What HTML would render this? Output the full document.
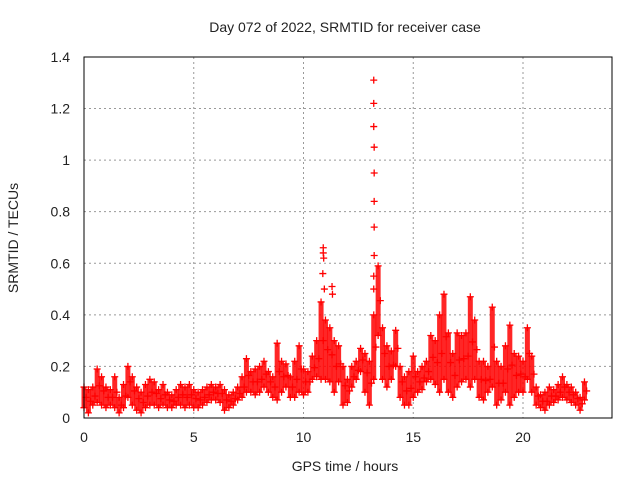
<!DOCTYPE html>
<html><head><meta charset="utf-8"><style>
body{margin:0;background:#fff;}
svg{display:block;font-family:"Liberation Sans",sans-serif;}
</style></head><body>
<svg id="chart" width="640" height="480">
<text x="345" y="32" text-anchor="middle" font-size="14" fill="#222">Day 072 of 2022, SRMTID for receiver case</text>
<text x="345" y="471" text-anchor="middle" font-size="14" fill="#222">GPS time / hours</text>
<text transform="translate(18,238) rotate(-90)" text-anchor="middle" font-size="14" fill="#222">SRMTID / TECUs</text>
<g id="grid"></g><g id="marks"></g>
<rect x="84" y="57" width="528" height="361" fill="none" stroke="#000" stroke-width="1"/>
</svg>
<script>
const binHours=[0.0,0.2,0.4,0.6,0.8,1.0,1.2,1.4,1.6,1.8,2.0,2.2,2.4,2.6,2.8,3.0,3.2,3.4,3.6,3.8,4.0,4.2,4.4,4.6,4.8,5.0,5.2,5.4,5.6,5.8,6.0,6.2,6.4,6.6,6.8,7.0,7.2,7.4,7.6,7.8,8.0,8.2,8.4,8.6,8.8,9.0,9.2,9.4,9.6,9.8,10.0,10.2,10.4,10.6,10.8,11.0,11.2,11.4,11.6,11.8,12.0,12.2,12.4,12.6,12.8,13.0,13.2,13.4,13.6,13.8,14.0,14.2,14.4,14.6,14.8,15.0,15.2,15.4,15.6,15.8,16.0,16.2,16.4,16.6,16.8,17.0,17.2,17.4,17.6,17.8,18.0,18.2,18.4,18.6,18.8,19.0,19.2,19.4,19.6,19.8,20.0,20.2,20.4,20.6,20.8,21.0,21.2,21.4,21.6,21.8,22.0,22.2,22.4,22.6,22.8];
const lowValues=[.04,.02,.05,.06,.05,.04,.05,.04,.02,.04,.08,.05,.03,.02,.04,.05,.05,.04,.05,.04,.04,.05,.05,.04,.05,.04,.04,.05,.06,.07,.07,.06,.03,.04,.05,.07,.08,.10,.10,.09,.10,.12,.10,.08,.07,.10,.12,.08,.08,.10,.09,.10,.15,.16,.15,.15,.14,.10,.14,.05,.06,.12,.15,.18,.10,.05,.15,.32,.15,.12,.15,.20,.08,.05,.05,.08,.10,.11,.14,.15,.13,.10,.15,.10,.08,.12,.14,.15,.12,.15,.08,.07,.10,.12,.05,.07,.10,.05,.08,.10,.10,.15,.10,.05,.04,.03,.05,.06,.07,.08,.07,.06,.05,.03,.07];
const highValues=[.12,.11,.12,.19,.16,.12,.11,.16,.08,.13,.20,.16,.12,.10,.13,.15,.14,.11,.13,.10,.09,.11,.13,.12,.13,.11,.10,.11,.12,.13,.12,.13,.11,.09,.10,.12,.16,.23,.18,.19,.20,.22,.18,.16,.29,.22,.21,.16,.22,.28,.19,.18,.24,.30,.45,.38,.35,.30,.28,.20,.15,.20,.22,.27,.25,.22,.40,.59,.35,.28,.26,.34,.20,.16,.18,.24,.18,.20,.22,.32,.30,.40,.48,.33,.25,.33,.32,.33,.47,.38,.22,.22,.20,.43,.22,.20,.28,.36,.25,.24,.22,.35,.24,.12,.09,.10,.12,.11,.13,.16,.13,.12,.10,.08,.14];
const spikeHours=[10.9,10.9,10.92,10.88,10.95,13.2,13.2,13.2,13.22,13.22,13.22,13.22,13.22,13.2,13.2,11.3,11.32];
const spikeValues=[.66,.64,.62,.56,.50,1.31,1.22,1.13,1.05,.95,.84,.74,.63,.55,.50,.51,.48];
const xTicks=[0,5,10,15,20];
const yTicks=[0,0.2,0.4,0.6,0.8,1,1.2,1.4];
const xs=h=>84+h*21.95, ys=v=>418-v*257.9;
const NS="http://www.w3.org/2000/svg";
const grid=document.getElementById('grid'), marks=document.getElementById('marks');
function mk(tag,at,parent){const e=document.createElementNS(NS,tag);for(const k in at)e.setAttribute(k,at[k]);parent.appendChild(e);return e;}
yTicks.forEach(t=>{
 if(t>0&&t<1.4){const l=mk('line',{x1:84,x2:612,y1:ys(t),y2:ys(t),stroke:'#999','stroke-dasharray':'2,3'},grid);
 
 }
 const tx=mk('text',{x:70,y:ys(t)+5,'text-anchor':'end','font-size':14,fill:'#222'},grid);tx.textContent=String(t);
 
 
});
xTicks.forEach(t=>{
 if(t>0){const l=mk('line',{x1:xs(t),x2:xs(t),y1:57,y2:418,stroke:'#999','stroke-dasharray':'2,3'},grid);
 
 }
 const tx=mk('text',{x:xs(t),y:442,'text-anchor':'middle','font-size':14,fill:'#222'},grid);tx.textContent=String(t);
 
 
});
function plus(h,v){const x=xs(h),y=ys(v);const p=mk('path',{d:`M${x-3.5},${y}H${x+3.5}M${x},${y-3.5}V${y+3.5}`,stroke:'#f00','stroke-width':1.3},marks);
 
 }
binHours.forEach((h,i)=>{
 const s=mk('line',{x1:xs(h),x2:xs(h),y1:ys(lowValues[i]),y2:ys(highValues[i]),stroke:'#f00','stroke-width':5,'stroke-opacity':0.85},marks);
 
 
 plus(h,lowValues[i]);plus(h,highValues[i]);plus(h+0.1,(lowValues[i]+highValues[i])/2);
});
spikeHours.forEach((h,i)=>plus(h,spikeValues[i]));
</script>
</body></html>
